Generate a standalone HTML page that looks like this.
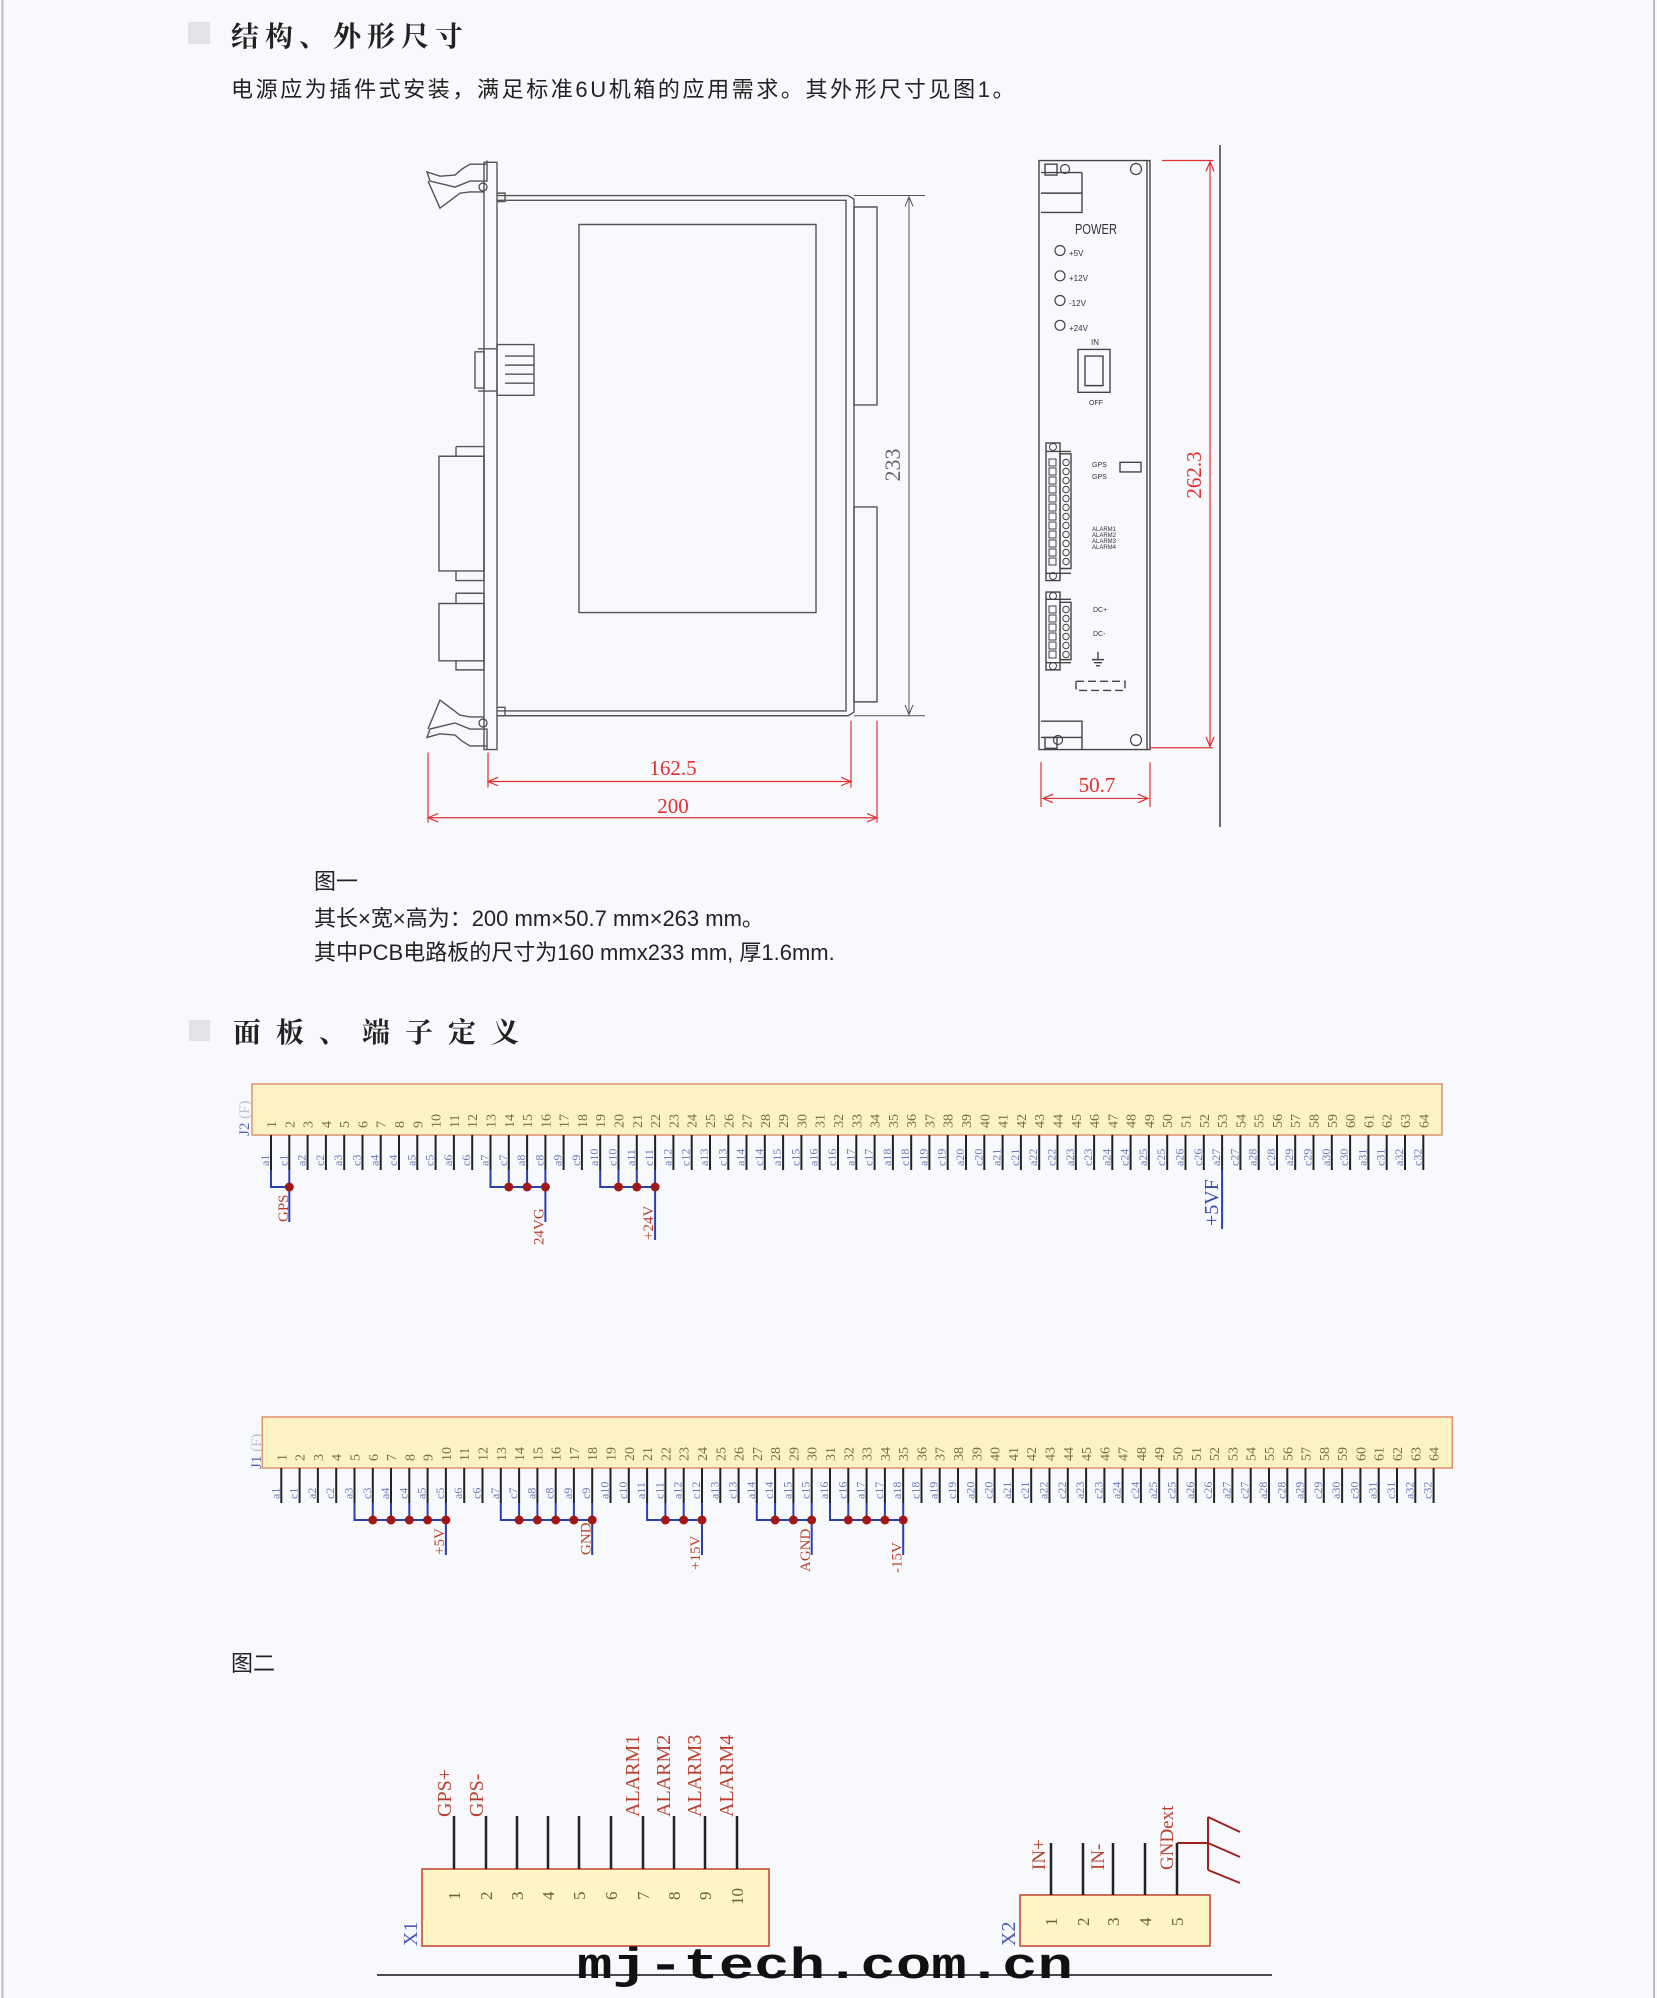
<!DOCTYPE html>
<html><head><meta charset="utf-8">
<style>
html,body{margin:0;padding:0;background:#f8f9fc;}
body{width:1657px;height:1998px;position:relative;overflow:hidden;}
svg{position:absolute;left:0;top:0;}
.sc *{vector-effect:non-scaling-stroke;}
.cn{font-family:"Liberation Sans","Noto Sans CJK SC",sans-serif;}
.hd{font-family:"Liberation Serif","Noto Serif CJK SC",serif;font-weight:bold;}
.n{font-family:"Liberation Serif",serif;font-size:14px;fill:#7a6c3e;}
.l{font-family:"Liberation Serif",serif;font-size:12px;fill:#6a78b4;}
.r{font-family:"Liberation Serif",serif;font-size:15px;fill:#b8412e;}
.rb{font-family:"Liberation Serif",serif;font-size:20px;fill:#b8412e;}
.d{font-family:"Liberation Serif",serif;font-size:21px;fill:#e03030;}
</style></head><body>
<svg width="1657" height="1998" viewBox="0 0 1657 1998" xmlns="http://www.w3.org/2000/svg">
<line x1="2.5" y1="0" x2="2.5" y2="1998" stroke="#bbb" stroke-width="2"/>
<line x1="1654" y1="0" x2="1654" y2="1998" stroke="#bbb" stroke-width="2"/>

<!-- Heading 1 -->
<rect x="188" y="22" width="22" height="22" fill="#e2e3e6"/>
<text x="231" y="46" class="hd" font-size="28" letter-spacing="6" fill="#222">结构、外形尺寸</text>
<text x="231" y="97" class="cn" font-size="22" letter-spacing="2.6" fill="#222">电源应为插件式安装，满足标准6U机箱的应用需求。其外形尺寸见图1。</text>

<!-- Figure 1 shapes, y-scaled -->
<g class="sc" transform="matrix(1 0 0 0.6035 0 0)">
<g fill="none" stroke="#555" stroke-width="1.4">
<rect x="484" y="269" width="13" height="973"/>
<path d="M497 324H848L854 330V1180L848 1186H497"/>
<path d="M497 332H846V1178H497"/>
<rect x="579" y="372" width="237" height="643"/>
<rect x="854" y="343" width="23" height="328"/>
<rect x="854" y="840" width="23" height="323"/>
<path d="M487 266V300H470L455 310L430 300L427 285L440 292L455 290L462 280L470 272H487"/>
<path d="M428 300L440 345L452 330L460 320L470 318H484"/>
<path d="M497 320H505V334H497"/>
<path d="M487 1242V1208H470L455 1198L430 1208L427 1222L440 1216L455 1218L462 1228L470 1236H487"/>
<path d="M428 1208L440 1160L452 1175L460 1185L470 1188H484"/>
<path d="M497 1172H505V1186H497"/>
<rect x="497" y="571" width="37" height="84"/>
<path d="M478 578H497M478 648H497M505 590H534M505 605H534M505 620H534M505 635H534"/>
<rect x="475" y="583" width="9" height="60"/>
<rect x="439" y="756" width="45" height="190"/>
<path d="M456 740H484V962H456V946M456 756V740"/>
<rect x="439" y="1000" width="45" height="95"/>
<path d="M456 983H484V1110H456V1095M456 1000V983"/>
</g>
<g stroke="#555" stroke-width="1" fill="none">
<path d="M854 324H925M854 1186H925M909 326V1184"/>
<path d="M905 342L909 326L913 342M905 1168L909 1184L913 1168"/>
</g>
<g stroke="#e03030" stroke-width="1.2" fill="none">
<path d="M428 1247V1363M488 1247V1305M851 1194V1305M877 1194V1363"/>
<path d="M490 1295H849M428 1355H877"/>
<path d="M498 1288L488 1295L498 1302M841 1288L851 1295L841 1302M438 1348L428 1355L438 1362M867 1348L877 1355L867 1362"/>
</g>
<g fill="none" stroke="#444" stroke-width="1.4">
<rect x="1039" y="266" width="111" height="976"/>
<path d="M1147 266V1242"/>
<path d="M1041 286H1082M1041 320H1082V352H1041M1082 286V320"/>
<path d="M1041 1195H1082V1222H1041M1082 1222V1242"/>
<rect x="1045" y="272" width="12" height="18"/>
<rect x="1045" y="1222" width="12" height="18"/>
<rect x="1078" y="579" width="32" height="71"/>
<rect x="1085" y="590" width="18" height="49"/>
<rect x="1046" y="734" width="14" height="228"/>
<rect x="1060" y="752" width="11" height="190"/>
<rect x="1120" y="766" width="21" height="16"/>
<rect x="1046" y="981" width="14" height="129"/>
<rect x="1060" y="998" width="11" height="95"/>
<rect x="1076" y="1129" width="49" height="15" stroke-dasharray="8 4"/>
<path d="M1046 748H1071M1046 950H1071M1046 993H1071M1046 1098H1071"/>
<path d="M1098 1080V1093M1092 1093H1104M1094 1098H1102M1096 1103H1100"/>
</g>
<g stroke="#e03030" stroke-width="1.2" fill="none">
<path d="M1162 266H1213M1150 1239H1213M1210 268V1237"/>
<path d="M1206 284L1210 268L1214 284M1206 1221L1210 1237L1214 1221"/>
<path d="M1041 1263V1337M1150 1263V1337M1043 1323H1148"/>
<path d="M1053 1316L1043 1323L1053 1330M1138 1316L1148 1323L1138 1330"/>
</g>
</g>
<line x1="1220" y1="145" x2="1220" y2="827" stroke="#222" stroke-width="1.3"/>

<g fill="none" stroke="#444" stroke-width="1.2">
<circle cx="483" cy="187" r="4"/><circle cx="483" cy="723" r="4"/>
<circle cx="1136" cy="169" r="5.5"/><circle cx="1065" cy="169" r="4.5"/>
<circle cx="1136" cy="740" r="5.5"/><circle cx="1058" cy="740" r="4.5"/>
<circle cx="1060" cy="250.5" r="5"/><circle cx="1060" cy="275.8" r="5"/>
<circle cx="1060" cy="300.5" r="5"/><circle cx="1060" cy="325.3" r="5"/>
</g>
<g fill="none" stroke="#444" stroke-width="1">
<path d="M1049 459h7v7h-7zM1049 468h7v7h-7zM1049 477h7v7h-7zM1049 486h7v7h-7zM1049 495h7v7h-7zM1049 504h7v7h-7zM1049 513h7v7h-7zM1049 522h7v7h-7zM1049 531h7v7h-7zM1049 540h7v7h-7zM1049 549h7v7h-7zM1049 558h7v7h-7z"/>
<path d="M1049 606h7v7h-7zM1049 615h7v7h-7zM1049 624h7v7h-7zM1049 633h7v7h-7zM1049 642h7v7h-7zM1049 651h7v7h-7z"/>
<circle cx="1066" cy="462.5" r="3.2"/><circle cx="1066" cy="471.5" r="3.2"/><circle cx="1066" cy="480.5" r="3.2"/><circle cx="1066" cy="489.5" r="3.2"/><circle cx="1066" cy="498.5" r="3.2"/><circle cx="1066" cy="507.5" r="3.2"/><circle cx="1066" cy="516.5" r="3.2"/><circle cx="1066" cy="525.5" r="3.2"/><circle cx="1066" cy="534.5" r="3.2"/><circle cx="1066" cy="543.5" r="3.2"/><circle cx="1066" cy="552.5" r="3.2"/><circle cx="1066" cy="561.5" r="3.2"/>
<circle cx="1066" cy="609.5" r="3.2"/><circle cx="1066" cy="618.5" r="3.2"/><circle cx="1066" cy="627.5" r="3.2"/><circle cx="1066" cy="636.5" r="3.2"/><circle cx="1066" cy="645.5" r="3.2"/><circle cx="1066" cy="654.5" r="3.2"/>
<circle cx="1053" cy="447" r="3.5"/><circle cx="1053" cy="576" r="3.5"/><circle cx="1053" cy="596" r="3.5"/><circle cx="1053" cy="666" r="3.5"/>
</g>
<g font-family="Liberation Sans" fill="#333">
<text x="1075" y="234" font-size="15" textLength="42" lengthAdjust="spacingAndGlyphs">POWER</text>
<text x="1069" y="256" font-size="8">+5V</text>
<text x="1069" y="281" font-size="8">+12V</text>
<text x="1069" y="306" font-size="8">-12V</text>
<text x="1069" y="331" font-size="8">+24V</text>
<text x="1091" y="345" font-size="8">IN</text>
<text x="1089" y="405" font-size="7">OFF</text>
<text x="1092" y="467" font-size="7">GPS</text>
<text x="1092" y="479" font-size="7">GPS</text>
<text x="1092" y="531" font-size="6">ALARM1</text>
<text x="1092" y="537" font-size="6">ALARM2</text>
<text x="1092" y="543" font-size="6">ALARM3</text>
<text x="1092" y="549" font-size="6">ALARM4</text>
<text x="1093" y="612" font-size="7">DC+</text>
<text x="1093" y="636" font-size="7">DC-</text>
</g>
<text transform="translate(900 465)rotate(-90)" text-anchor="middle" font-family="Liberation Serif" font-size="22" fill="#666">233</text>
<text x="673" y="775" text-anchor="middle" class="d">162.5</text>
<text x="673" y="813" text-anchor="middle" class="d">200</text>
<text transform="translate(1201 475)rotate(-90)" text-anchor="middle" class="d">262.3</text>
<text x="1097" y="792" text-anchor="middle" class="d">50.7</text>

<text x="314" y="889" class="cn" font-size="22" fill="#222">图一</text>
<text x="314" y="926" class="cn" font-size="22" fill="#222">其长×宽×高为：200 mm×50.7 mm×263 mm。</text>
<text x="314" y="960" class="cn" font-size="22" fill="#222">其中PCB电路板的尺寸为160 mmx233 mm, 厚1.6mm.</text>

<!-- Heading 2 -->
<rect x="189" y="1020" width="21" height="21" fill="#e2e3e6"/>
<text x="233" y="1042" class="hd" font-size="28" letter-spacing="15" fill="#222">面板、端子定义</text>

<text transform="translate(249 1136)rotate(-90)" font-family="Liberation Serif" font-size="15" fill="#5566aa">J2 <tspan fill="#bbbfd0">(F)</tspan></text>
<text transform="translate(261 1469)rotate(-90)" font-family="Liberation Serif" font-size="15" fill="#5566aa">J1 <tspan fill="#bbbfd0">(F)</tspan></text>

<!-- J2 -->
<g transform="translate(271 0)">
<rect x="-19" y="1084" width="1190" height="51" fill="#fbf4c2" stroke="#e0906a" stroke-width="1.5"/>
<path stroke="#222" stroke-width="2" d="M0 1135V1170M18.3 1135V1170M36.6 1135V1170M54.9 1135V1170M73.2 1135V1170M91.5 1135V1170M109.7 1135V1170M128 1135V1170M146.3 1135V1170M164.6 1135V1170M182.9 1135V1170M201.2 1135V1170M219.5 1135V1170M237.8 1135V1170M256.1 1135V1170M274.4 1135V1170M292.6 1135V1170M310.9 1135V1170M329.2 1135V1170M347.5 1135V1170M365.8 1135V1170M384.1 1135V1170M402.4 1135V1170M420.7 1135V1170M439 1135V1170M457.3 1135V1170M475.5 1135V1170M493.8 1135V1170M512.1 1135V1170M530.4 1135V1170M548.7 1135V1170M567 1135V1170M585.3 1135V1170M603.6 1135V1170M621.9 1135V1170M640.2 1135V1170M658.4 1135V1170M676.7 1135V1170M695 1135V1170M713.3 1135V1170M731.6 1135V1170M749.9 1135V1170M768.2 1135V1170M786.5 1135V1170M804.8 1135V1170M823.1 1135V1170M841.3 1135V1170M859.6 1135V1170M877.9 1135V1170M896.2 1135V1170M914.5 1135V1170M932.8 1135V1170M951.1 1135V1170M969.4 1135V1170M987.7 1135V1170M1006 1135V1170M1024.2 1135V1170M1042.5 1135V1170M1060.8 1135V1170M1079.1 1135V1170M1097.4 1135V1170M1115.7 1135V1170M1134 1135V1170M1152.3 1135V1170"/>
<g class="n">
<text transform="translate(5 1128)rotate(-90)">1</text><text transform="translate(23.3 1128)rotate(-90)">2</text><text transform="translate(41.6 1128)rotate(-90)">3</text><text transform="translate(59.9 1128)rotate(-90)">4</text><text transform="translate(78.2 1128)rotate(-90)">5</text><text transform="translate(96.5 1128)rotate(-90)">6</text><text transform="translate(114.7 1128)rotate(-90)">7</text><text transform="translate(133 1128)rotate(-90)">8</text><text transform="translate(151.3 1128)rotate(-90)">9</text><text transform="translate(169.6 1128)rotate(-90)">10</text><text transform="translate(187.9 1128)rotate(-90)">11</text><text transform="translate(206.2 1128)rotate(-90)">12</text><text transform="translate(224.5 1128)rotate(-90)">13</text><text transform="translate(242.8 1128)rotate(-90)">14</text><text transform="translate(261.1 1128)rotate(-90)">15</text><text transform="translate(279.4 1128)rotate(-90)">16</text><text transform="translate(297.6 1128)rotate(-90)">17</text><text transform="translate(315.9 1128)rotate(-90)">18</text><text transform="translate(334.2 1128)rotate(-90)">19</text><text transform="translate(352.5 1128)rotate(-90)">20</text><text transform="translate(370.8 1128)rotate(-90)">21</text><text transform="translate(389.1 1128)rotate(-90)">22</text><text transform="translate(407.4 1128)rotate(-90)">23</text><text transform="translate(425.7 1128)rotate(-90)">24</text><text transform="translate(444 1128)rotate(-90)">25</text><text transform="translate(462.3 1128)rotate(-90)">26</text><text transform="translate(480.5 1128)rotate(-90)">27</text><text transform="translate(498.8 1128)rotate(-90)">28</text><text transform="translate(517.1 1128)rotate(-90)">29</text><text transform="translate(535.4 1128)rotate(-90)">30</text><text transform="translate(553.7 1128)rotate(-90)">31</text><text transform="translate(572 1128)rotate(-90)">32</text><text transform="translate(590.3 1128)rotate(-90)">33</text><text transform="translate(608.6 1128)rotate(-90)">34</text><text transform="translate(626.9 1128)rotate(-90)">35</text><text transform="translate(645.2 1128)rotate(-90)">36</text><text transform="translate(663.4 1128)rotate(-90)">37</text><text transform="translate(681.7 1128)rotate(-90)">38</text><text transform="translate(700 1128)rotate(-90)">39</text><text transform="translate(718.3 1128)rotate(-90)">40</text><text transform="translate(736.6 1128)rotate(-90)">41</text><text transform="translate(754.9 1128)rotate(-90)">42</text><text transform="translate(773.2 1128)rotate(-90)">43</text><text transform="translate(791.5 1128)rotate(-90)">44</text><text transform="translate(809.8 1128)rotate(-90)">45</text><text transform="translate(828.1 1128)rotate(-90)">46</text><text transform="translate(846.3 1128)rotate(-90)">47</text><text transform="translate(864.6 1128)rotate(-90)">48</text><text transform="translate(882.9 1128)rotate(-90)">49</text><text transform="translate(901.2 1128)rotate(-90)">50</text><text transform="translate(919.5 1128)rotate(-90)">51</text><text transform="translate(937.8 1128)rotate(-90)">52</text><text transform="translate(956.1 1128)rotate(-90)">53</text><text transform="translate(974.4 1128)rotate(-90)">54</text><text transform="translate(992.7 1128)rotate(-90)">55</text><text transform="translate(1011 1128)rotate(-90)">56</text><text transform="translate(1029.2 1128)rotate(-90)">57</text><text transform="translate(1047.5 1128)rotate(-90)">58</text><text transform="translate(1065.8 1128)rotate(-90)">59</text><text transform="translate(1084.1 1128)rotate(-90)">60</text><text transform="translate(1102.4 1128)rotate(-90)">61</text><text transform="translate(1120.7 1128)rotate(-90)">62</text><text transform="translate(1139 1128)rotate(-90)">63</text><text transform="translate(1157.3 1128)rotate(-90)">64</text>
</g>
<g class="l">
<text transform="translate(-2 1166)rotate(-90)">a1</text><text transform="translate(16.3 1166)rotate(-90)">c1</text><text transform="translate(34.6 1166)rotate(-90)">a2</text><text transform="translate(52.9 1166)rotate(-90)">c2</text><text transform="translate(71.2 1166)rotate(-90)">a3</text><text transform="translate(89.5 1166)rotate(-90)">c3</text><text transform="translate(107.7 1166)rotate(-90)">a4</text><text transform="translate(126 1166)rotate(-90)">c4</text><text transform="translate(144.3 1166)rotate(-90)">a5</text><text transform="translate(162.6 1166)rotate(-90)">c5</text><text transform="translate(180.9 1166)rotate(-90)">a6</text><text transform="translate(199.2 1166)rotate(-90)">c6</text><text transform="translate(217.5 1166)rotate(-90)">a7</text><text transform="translate(235.8 1166)rotate(-90)">c7</text><text transform="translate(254.1 1166)rotate(-90)">a8</text><text transform="translate(272.4 1166)rotate(-90)">c8</text><text transform="translate(290.6 1166)rotate(-90)">a9</text><text transform="translate(308.9 1166)rotate(-90)">c9</text><text transform="translate(327.2 1166)rotate(-90)">a10</text><text transform="translate(345.5 1166)rotate(-90)">c10</text><text transform="translate(363.8 1166)rotate(-90)">a11</text><text transform="translate(382.1 1166)rotate(-90)">c11</text><text transform="translate(400.4 1166)rotate(-90)">a12</text><text transform="translate(418.7 1166)rotate(-90)">c12</text><text transform="translate(437 1166)rotate(-90)">a13</text><text transform="translate(455.3 1166)rotate(-90)">c13</text><text transform="translate(473.5 1166)rotate(-90)">a14</text><text transform="translate(491.8 1166)rotate(-90)">c14</text><text transform="translate(510.1 1166)rotate(-90)">a15</text><text transform="translate(528.4 1166)rotate(-90)">c15</text><text transform="translate(546.7 1166)rotate(-90)">a16</text><text transform="translate(565 1166)rotate(-90)">c16</text><text transform="translate(583.3 1166)rotate(-90)">a17</text><text transform="translate(601.6 1166)rotate(-90)">c17</text><text transform="translate(619.9 1166)rotate(-90)">a18</text><text transform="translate(638.2 1166)rotate(-90)">c18</text><text transform="translate(656.4 1166)rotate(-90)">a19</text><text transform="translate(674.7 1166)rotate(-90)">c19</text><text transform="translate(693 1166)rotate(-90)">a20</text><text transform="translate(711.3 1166)rotate(-90)">c20</text><text transform="translate(729.6 1166)rotate(-90)">a21</text><text transform="translate(747.9 1166)rotate(-90)">c21</text><text transform="translate(766.2 1166)rotate(-90)">a22</text><text transform="translate(784.5 1166)rotate(-90)">c22</text><text transform="translate(802.8 1166)rotate(-90)">a23</text><text transform="translate(821.1 1166)rotate(-90)">c23</text><text transform="translate(839.3 1166)rotate(-90)">a24</text><text transform="translate(857.6 1166)rotate(-90)">c24</text><text transform="translate(875.9 1166)rotate(-90)">a25</text><text transform="translate(894.2 1166)rotate(-90)">c25</text><text transform="translate(912.5 1166)rotate(-90)">a26</text><text transform="translate(930.8 1166)rotate(-90)">c26</text><text transform="translate(949.1 1166)rotate(-90)">a27</text><text transform="translate(967.4 1166)rotate(-90)">c27</text><text transform="translate(985.7 1166)rotate(-90)">a28</text><text transform="translate(1004 1166)rotate(-90)">c28</text><text transform="translate(1022.2 1166)rotate(-90)">a29</text><text transform="translate(1040.5 1166)rotate(-90)">c29</text><text transform="translate(1058.8 1166)rotate(-90)">a30</text><text transform="translate(1077.1 1166)rotate(-90)">c30</text><text transform="translate(1095.4 1166)rotate(-90)">a31</text><text transform="translate(1113.7 1166)rotate(-90)">c31</text><text transform="translate(1132 1166)rotate(-90)">a32</text><text transform="translate(1150.3 1166)rotate(-90)">c32</text>
</g>
<g fill="none" stroke="#2b3fae" stroke-width="2">
<path d="M0 1170V1187H18.3M18.3 1170V1222"/>
<path d="M219.5 1170V1187H274.4M237.8 1170V1187M256.1 1170V1187M274.4 1170V1222"/>
<path d="M329.2 1170V1187H384.1M347.5 1170V1187M365.8 1170V1187M384.1 1170V1240"/>
<path d="M951.1 1170V1229"/>
</g>
<g fill="#a01818">
<circle cx="18.3" cy="1187" r="4.5"/><circle cx="237.8" cy="1187" r="4.5"/><circle cx="256.1" cy="1187" r="4.5"/><circle cx="274.4" cy="1187" r="4.5"/><circle cx="347.5" cy="1187" r="4.5"/><circle cx="365.8" cy="1187" r="4.5"/><circle cx="384.1" cy="1187" r="4.5"/>
</g>
<text transform="translate(17 1222)rotate(-90)" class="r">GPS</text>
<text transform="translate(272.5 1245)rotate(-90)" class="r">24VG</text>
<text transform="translate(382 1240)rotate(-90)" class="r">+24V</text>
<text transform="translate(947 1226)rotate(-90)" font-family="Liberation Serif" font-size="20" fill="#3848b0">+5VF</text>
</g>

<!-- J1 -->
<g transform="translate(281.3 333)">
<rect x="-19" y="1084" width="1190" height="51" fill="#fbf4c2" stroke="#e0906a" stroke-width="1.5"/>
<path stroke="#222" stroke-width="2" d="M0 1135V1170M18.3 1135V1170M36.6 1135V1170M54.9 1135V1170M73.2 1135V1170M91.5 1135V1170M109.7 1135V1170M128 1135V1170M146.3 1135V1170M164.6 1135V1170M182.9 1135V1170M201.2 1135V1170M219.5 1135V1170M237.8 1135V1170M256.1 1135V1170M274.4 1135V1170M292.6 1135V1170M310.9 1135V1170M329.2 1135V1170M347.5 1135V1170M365.8 1135V1170M384.1 1135V1170M402.4 1135V1170M420.7 1135V1170M439 1135V1170M457.3 1135V1170M475.5 1135V1170M493.8 1135V1170M512.1 1135V1170M530.4 1135V1170M548.7 1135V1170M567 1135V1170M585.3 1135V1170M603.6 1135V1170M621.9 1135V1170M640.2 1135V1170M658.4 1135V1170M676.7 1135V1170M695 1135V1170M713.3 1135V1170M731.6 1135V1170M749.9 1135V1170M768.2 1135V1170M786.5 1135V1170M804.8 1135V1170M823.1 1135V1170M841.3 1135V1170M859.6 1135V1170M877.9 1135V1170M896.2 1135V1170M914.5 1135V1170M932.8 1135V1170M951.1 1135V1170M969.4 1135V1170M987.7 1135V1170M1006 1135V1170M1024.2 1135V1170M1042.5 1135V1170M1060.8 1135V1170M1079.1 1135V1170M1097.4 1135V1170M1115.7 1135V1170M1134 1135V1170M1152.3 1135V1170"/>
<g class="n">
<text transform="translate(5 1128)rotate(-90)">1</text><text transform="translate(23.3 1128)rotate(-90)">2</text><text transform="translate(41.6 1128)rotate(-90)">3</text><text transform="translate(59.9 1128)rotate(-90)">4</text><text transform="translate(78.2 1128)rotate(-90)">5</text><text transform="translate(96.5 1128)rotate(-90)">6</text><text transform="translate(114.7 1128)rotate(-90)">7</text><text transform="translate(133 1128)rotate(-90)">8</text><text transform="translate(151.3 1128)rotate(-90)">9</text><text transform="translate(169.6 1128)rotate(-90)">10</text><text transform="translate(187.9 1128)rotate(-90)">11</text><text transform="translate(206.2 1128)rotate(-90)">12</text><text transform="translate(224.5 1128)rotate(-90)">13</text><text transform="translate(242.8 1128)rotate(-90)">14</text><text transform="translate(261.1 1128)rotate(-90)">15</text><text transform="translate(279.4 1128)rotate(-90)">16</text><text transform="translate(297.6 1128)rotate(-90)">17</text><text transform="translate(315.9 1128)rotate(-90)">18</text><text transform="translate(334.2 1128)rotate(-90)">19</text><text transform="translate(352.5 1128)rotate(-90)">20</text><text transform="translate(370.8 1128)rotate(-90)">21</text><text transform="translate(389.1 1128)rotate(-90)">22</text><text transform="translate(407.4 1128)rotate(-90)">23</text><text transform="translate(425.7 1128)rotate(-90)">24</text><text transform="translate(444 1128)rotate(-90)">25</text><text transform="translate(462.3 1128)rotate(-90)">26</text><text transform="translate(480.5 1128)rotate(-90)">27</text><text transform="translate(498.8 1128)rotate(-90)">28</text><text transform="translate(517.1 1128)rotate(-90)">29</text><text transform="translate(535.4 1128)rotate(-90)">30</text><text transform="translate(553.7 1128)rotate(-90)">31</text><text transform="translate(572 1128)rotate(-90)">32</text><text transform="translate(590.3 1128)rotate(-90)">33</text><text transform="translate(608.6 1128)rotate(-90)">34</text><text transform="translate(626.9 1128)rotate(-90)">35</text><text transform="translate(645.2 1128)rotate(-90)">36</text><text transform="translate(663.4 1128)rotate(-90)">37</text><text transform="translate(681.7 1128)rotate(-90)">38</text><text transform="translate(700 1128)rotate(-90)">39</text><text transform="translate(718.3 1128)rotate(-90)">40</text><text transform="translate(736.6 1128)rotate(-90)">41</text><text transform="translate(754.9 1128)rotate(-90)">42</text><text transform="translate(773.2 1128)rotate(-90)">43</text><text transform="translate(791.5 1128)rotate(-90)">44</text><text transform="translate(809.8 1128)rotate(-90)">45</text><text transform="translate(828.1 1128)rotate(-90)">46</text><text transform="translate(846.3 1128)rotate(-90)">47</text><text transform="translate(864.6 1128)rotate(-90)">48</text><text transform="translate(882.9 1128)rotate(-90)">49</text><text transform="translate(901.2 1128)rotate(-90)">50</text><text transform="translate(919.5 1128)rotate(-90)">51</text><text transform="translate(937.8 1128)rotate(-90)">52</text><text transform="translate(956.1 1128)rotate(-90)">53</text><text transform="translate(974.4 1128)rotate(-90)">54</text><text transform="translate(992.7 1128)rotate(-90)">55</text><text transform="translate(1011 1128)rotate(-90)">56</text><text transform="translate(1029.2 1128)rotate(-90)">57</text><text transform="translate(1047.5 1128)rotate(-90)">58</text><text transform="translate(1065.8 1128)rotate(-90)">59</text><text transform="translate(1084.1 1128)rotate(-90)">60</text><text transform="translate(1102.4 1128)rotate(-90)">61</text><text transform="translate(1120.7 1128)rotate(-90)">62</text><text transform="translate(1139 1128)rotate(-90)">63</text><text transform="translate(1157.3 1128)rotate(-90)">64</text>
</g>
<g class="l">
<text transform="translate(-2 1166)rotate(-90)">a1</text><text transform="translate(16.3 1166)rotate(-90)">c1</text><text transform="translate(34.6 1166)rotate(-90)">a2</text><text transform="translate(52.9 1166)rotate(-90)">c2</text><text transform="translate(71.2 1166)rotate(-90)">a3</text><text transform="translate(89.5 1166)rotate(-90)">c3</text><text transform="translate(107.7 1166)rotate(-90)">a4</text><text transform="translate(126 1166)rotate(-90)">c4</text><text transform="translate(144.3 1166)rotate(-90)">a5</text><text transform="translate(162.6 1166)rotate(-90)">c5</text><text transform="translate(180.9 1166)rotate(-90)">a6</text><text transform="translate(199.2 1166)rotate(-90)">c6</text><text transform="translate(217.5 1166)rotate(-90)">a7</text><text transform="translate(235.8 1166)rotate(-90)">c7</text><text transform="translate(254.1 1166)rotate(-90)">a8</text><text transform="translate(272.4 1166)rotate(-90)">c8</text><text transform="translate(290.6 1166)rotate(-90)">a9</text><text transform="translate(308.9 1166)rotate(-90)">c9</text><text transform="translate(327.2 1166)rotate(-90)">a10</text><text transform="translate(345.5 1166)rotate(-90)">c10</text><text transform="translate(363.8 1166)rotate(-90)">a11</text><text transform="translate(382.1 1166)rotate(-90)">c11</text><text transform="translate(400.4 1166)rotate(-90)">a12</text><text transform="translate(418.7 1166)rotate(-90)">c12</text><text transform="translate(437 1166)rotate(-90)">a13</text><text transform="translate(455.3 1166)rotate(-90)">c13</text><text transform="translate(473.5 1166)rotate(-90)">a14</text><text transform="translate(491.8 1166)rotate(-90)">c14</text><text transform="translate(510.1 1166)rotate(-90)">a15</text><text transform="translate(528.4 1166)rotate(-90)">c15</text><text transform="translate(546.7 1166)rotate(-90)">a16</text><text transform="translate(565 1166)rotate(-90)">c16</text><text transform="translate(583.3 1166)rotate(-90)">a17</text><text transform="translate(601.6 1166)rotate(-90)">c17</text><text transform="translate(619.9 1166)rotate(-90)">a18</text><text transform="translate(638.2 1166)rotate(-90)">c18</text><text transform="translate(656.4 1166)rotate(-90)">a19</text><text transform="translate(674.7 1166)rotate(-90)">c19</text><text transform="translate(693 1166)rotate(-90)">a20</text><text transform="translate(711.3 1166)rotate(-90)">c20</text><text transform="translate(729.6 1166)rotate(-90)">a21</text><text transform="translate(747.9 1166)rotate(-90)">c21</text><text transform="translate(766.2 1166)rotate(-90)">a22</text><text transform="translate(784.5 1166)rotate(-90)">c22</text><text transform="translate(802.8 1166)rotate(-90)">a23</text><text transform="translate(821.1 1166)rotate(-90)">c23</text><text transform="translate(839.3 1166)rotate(-90)">a24</text><text transform="translate(857.6 1166)rotate(-90)">c24</text><text transform="translate(875.9 1166)rotate(-90)">a25</text><text transform="translate(894.2 1166)rotate(-90)">c25</text><text transform="translate(912.5 1166)rotate(-90)">a26</text><text transform="translate(930.8 1166)rotate(-90)">c26</text><text transform="translate(949.1 1166)rotate(-90)">a27</text><text transform="translate(967.4 1166)rotate(-90)">c27</text><text transform="translate(985.7 1166)rotate(-90)">a28</text><text transform="translate(1004 1166)rotate(-90)">c28</text><text transform="translate(1022.2 1166)rotate(-90)">a29</text><text transform="translate(1040.5 1166)rotate(-90)">c29</text><text transform="translate(1058.8 1166)rotate(-90)">a30</text><text transform="translate(1077.1 1166)rotate(-90)">c30</text><text transform="translate(1095.4 1166)rotate(-90)">a31</text><text transform="translate(1113.7 1166)rotate(-90)">c31</text><text transform="translate(1132 1166)rotate(-90)">a32</text><text transform="translate(1150.3 1166)rotate(-90)">c32</text>
</g>
<g fill="none" stroke="#2b3fae" stroke-width="2">
<path d="M73.2 1170V1187H164.6M91.5 1170V1187M109.7 1170V1187M128 1170V1187M146.3 1170V1187M164.6 1170V1222"/>
<path d="M219.5 1170V1187H310.9M237.8 1170V1187M256.1 1170V1187M274.4 1170V1187M292.6 1170V1187M310.9 1170V1222"/>
<path d="M365.8 1170V1187H420.7M384.1 1170V1187M402.4 1170V1187M420.7 1170V1222"/>
<path d="M475.5 1170V1187H530.4M493.8 1170V1187M512.1 1170V1187M530.4 1170V1222"/>
<path d="M548.7 1170V1187H621.9M567 1170V1187M585.3 1170V1187M603.6 1170V1187M621.9 1170V1222"/>
</g>
<g fill="#a01818">
<circle cx="91.5" cy="1187" r="4.5"/><circle cx="109.7" cy="1187" r="4.5"/><circle cx="128" cy="1187" r="4.5"/><circle cx="146.3" cy="1187" r="4.5"/><circle cx="164.6" cy="1187" r="4.5"/>
<circle cx="237.8" cy="1187" r="4.5"/><circle cx="256.1" cy="1187" r="4.5"/><circle cx="274.4" cy="1187" r="4.5"/><circle cx="292.6" cy="1187" r="4.5"/><circle cx="310.9" cy="1187" r="4.5"/>
<circle cx="384.1" cy="1187" r="4.5"/><circle cx="402.4" cy="1187" r="4.5"/><circle cx="420.7" cy="1187" r="4.5"/>
<circle cx="493.8" cy="1187" r="4.5"/><circle cx="512.1" cy="1187" r="4.5"/><circle cx="530.4" cy="1187" r="4.5"/>
<circle cx="567" cy="1187" r="4.5"/><circle cx="585.3" cy="1187" r="4.5"/><circle cx="603.6" cy="1187" r="4.5"/><circle cx="621.9" cy="1187" r="4.5"/>
</g>
<text transform="translate(162.5 1222)rotate(-90)" class="r">+5V</text>
<text transform="translate(309 1222)rotate(-90)" class="r">GND</text>
<text transform="translate(418.5 1237)rotate(-90)" class="r">+15V</text>
<text transform="translate(528.5 1239)rotate(-90)" class="r">AGND</text>
<text transform="translate(620 1240)rotate(-90)" class="r">-15V</text>
</g>

<text x="231" y="1671" class="cn" font-size="22" fill="#222">图二</text>

<!-- X1 -->
<rect x="422" y="1869" width="347" height="77" fill="#fdf6c4" stroke="#c04030" stroke-width="1.5"/>
<path stroke="#222" stroke-width="2.5" d="M454 1816V1869M486 1816V1869M517 1816V1869M548 1816V1869M579 1816V1869M611 1816V1869M643 1816V1869M674 1816V1869M705 1816V1869M737 1816V1869"/>
<g font-family="Liberation Serif" font-size="17" fill="#6e6035">
<text transform="translate(460 1900)rotate(-90)">1</text><text transform="translate(492 1900)rotate(-90)">2</text><text transform="translate(523 1900)rotate(-90)">3</text><text transform="translate(554 1900)rotate(-90)">4</text><text transform="translate(585 1900)rotate(-90)">5</text><text transform="translate(617 1900)rotate(-90)">6</text><text transform="translate(649 1900)rotate(-90)">7</text><text transform="translate(680 1900)rotate(-90)">8</text><text transform="translate(711 1900)rotate(-90)">9</text><text transform="translate(743 1905)rotate(-90)">10</text>
</g>
<g class="rb">
<text transform="translate(451 1817)rotate(-90)">GPS+</text>
<text transform="translate(483 1817)rotate(-90)">GPS-</text>
<text transform="translate(639 1817)rotate(-90)">ALARM1</text>
<text transform="translate(670 1817)rotate(-90)">ALARM2</text>
<text transform="translate(701 1817)rotate(-90)">ALARM3</text>
<text transform="translate(733 1817)rotate(-90)">ALARM4</text>
</g>
<text transform="translate(417 1946)rotate(-90)" font-family="Liberation Serif" font-size="20" fill="#4a5ab0">X1</text>

<!-- X2 -->
<rect x="1020" y="1895" width="190" height="51" fill="#fdf6c4" stroke="#c04030" stroke-width="1.5"/>
<path stroke="#222" stroke-width="2.5" d="M1051 1843V1895M1083 1843V1895M1113 1843V1895M1145 1843V1895M1177 1843V1895"/>
<g font-family="Liberation Serif" font-size="17" fill="#6e6035">
<text transform="translate(1057 1926)rotate(-90)">1</text><text transform="translate(1089 1926)rotate(-90)">2</text><text transform="translate(1119 1926)rotate(-90)">3</text><text transform="translate(1151 1926)rotate(-90)">4</text><text transform="translate(1183 1926)rotate(-90)">5</text>
</g>
<g font-family="Liberation Serif" font-size="19" fill="#b8412e">
<text transform="translate(1045 1870)rotate(-90)">IN+</text>
<text transform="translate(1104 1870)rotate(-90)">IN-</text>
<text transform="translate(1173 1870)rotate(-90)">GNDext</text>
</g>
<path fill="none" stroke="#a02020" stroke-width="2" d="M1177 1843H1208M1208 1817V1870M1208 1817L1240 1832M1208 1843L1240 1857M1208 1870L1240 1883"/>
<text transform="translate(1015 1946)rotate(-90)" font-family="Liberation Serif" font-size="20" fill="#4a5ab0">X2</text>

<line x1="377" y1="1975" x2="1272" y2="1975" stroke="#111" stroke-width="1.5"/>
<text x="577" y="1978" font-family="Liberation Mono" font-weight="bold" font-size="44" fill="#111" textLength="496" lengthAdjust="spacingAndGlyphs">mj-tech.com.cn</text>
</svg>
</body></html>
